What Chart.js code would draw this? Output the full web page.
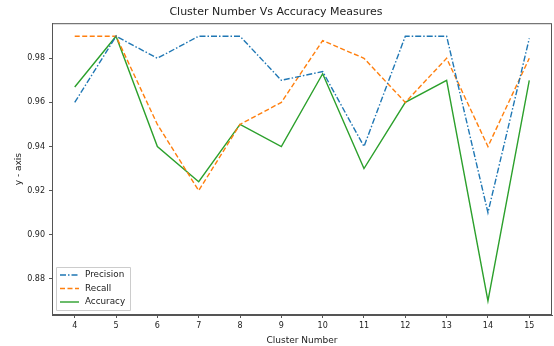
<!DOCTYPE html>
<html>
<head>
<meta charset="utf-8">
<script src="https://cdn.jsdelivr.net/npm/chart.js@4"></script>
<style>
  body { margin: 0; background: #fff; }
  #wrap { width: 554px; height: 346px; }
</style>
</head>
<body>
<div id="wrap"><canvas id="chart" width="554" height="346"></canvas></div>
<script>
// data
const clusters = [4, 5, 6, 7, 8, 9, 10, 11, 12, 13, 14, 15];
const precision = [0.96, 0.99, 0.98, 0.99, 0.99, 0.97, 0.974, 0.94, 0.99, 0.99, 0.91, 0.989];
const recall = [0.99, 0.99, 0.95, 0.92, 0.95, 0.96, 0.988, 0.98, 0.96, 0.98, 0.94, 0.98];
const accuracy = [0.967, 0.99, 0.94, 0.924, 0.95, 0.94, 0.973, 0.93, 0.96, 0.97, 0.87, 0.97];
const yTicks = [0.88, 0.90, 0.92, 0.94, 0.96, 0.98];

const font = 'DejaVu Sans';
const toPoints = arr => arr.map((v, i) => ({ x: clusters[i], y: v }));

const series = [
  { label: 'Precision', data: precision, color: '#1f77b4', dash: [6, 2, 1.5, 2] },
  { label: 'Recall', data: recall, color: '#ff7f0e', dash: [5, 2.5] },
  { label: 'Accuracy', data: accuracy, color: '#2ca02c', dash: [] },
];

// frame + legend inside the plot, matplotlib style
const framePlugin = {
  id: 'frame',
  afterDatasetsDraw(chart) {
    const { ctx, chartArea: a } = chart;
    ctx.save();
    ctx.strokeStyle = '#555';
    ctx.lineWidth = 1;
    ctx.strokeRect(a.left + 0.5, a.top + 0.5, a.right - a.left - 1, a.bottom - a.top - 1);

    // legend box, lower left
    const bx = a.left + 4, by = a.bottom - 48, bw = 74, bh = 43;
    ctx.fillStyle = 'rgba(255,255,255,0.8)';
    ctx.strokeStyle = '#ccc';
    ctx.beginPath();
    ctx.rect(bx + 0.5, by + 0.5, bw, bh);
    ctx.fill();
    ctx.stroke();
    ctx.font = '8.8px ' + font;
    ctx.textBaseline = 'middle';
    series.forEach((s, i) => {
      const y = by + 8 + i * 13.5;
      ctx.strokeStyle = s.color;
      ctx.lineWidth = 1.4;
      ctx.setLineDash(s.dash);
      ctx.beginPath();
      ctx.moveTo(bx + 4, y);
      ctx.lineTo(bx + 23, y);
      ctx.stroke();
      ctx.setLineDash([]);
      ctx.fillStyle = '#222';
      ctx.fillText(s.label, bx + 29, y);
    });
    ctx.restore();
  }
};

new Chart(document.getElementById('chart'), {
  type: 'line',
  data: {
    datasets: series.map(s => ({
      label: s.label,
      data: toPoints(s.data),
      borderColor: s.color,
      backgroundColor: s.color,
      borderWidth: 1.4,
      borderDash: s.dash,
      pointRadius: 0,
      tension: 0,
      fill: false,
    })),
  },
  options: {
    responsive: false,
    animation: false,
    layout: { padding: { top: 0, right: 2, left: 0, bottom: 0 } },
    plugins: {
      legend: { display: false },
      tooltip: { enabled: false },
      title: {
        display: true,
        text: 'Cluster Number Vs Accuracy Measures',
        color: '#222',
        font: { family: font, size: 11, weight: 'normal', lineHeight: 1.2 },
        padding: { top: 6, bottom: 4 },
      },
    },
    scales: {
      x: {
        type: 'linear',
        min: 3.45,
        max: 15.55,
        afterBuildTicks: s => { s.ticks = clusters.map(v => ({ value: v })); },
        afterFit: s => { s.height = 31; },
        grid: { drawOnChartArea: false, drawTicks: true, tickLength: 3, color: '#555' },
        border: { display: true, color: '#555' },
        ticks: { color: '#222', font: { family: font, size: 8 }, padding: 3, maxRotation: 0, autoSkip: false },
        title: {
          display: true,
          text: 'Cluster Number',
          color: '#222',
          font: { family: font, size: 9 },
          padding: { top: 0, bottom: 0 },
        },
      },
      y: {
        min: 0.8636,
        max: 0.9959,
        afterBuildTicks: s => { s.ticks = yTicks.map(v => ({ value: v })); },
        afterFit: s => { s.width = 52; },
        grid: { drawOnChartArea: false, drawTicks: true, tickLength: 3, color: '#555' },
        border: { display: true, color: '#555' },
        ticks: {
          color: '#222',
          font: { family: font, size: 8 },
          padding: 4,
          callback: v => v.toFixed(2),
        },
        title: {
          display: true,
          text: 'y - axis',
          color: '#222',
          font: { family: font, size: 9 },
          padding: { top: 13, bottom: 0 },
        },
      },
    },
  },
  plugins: [framePlugin],
});
</script>
</body>
</html>
